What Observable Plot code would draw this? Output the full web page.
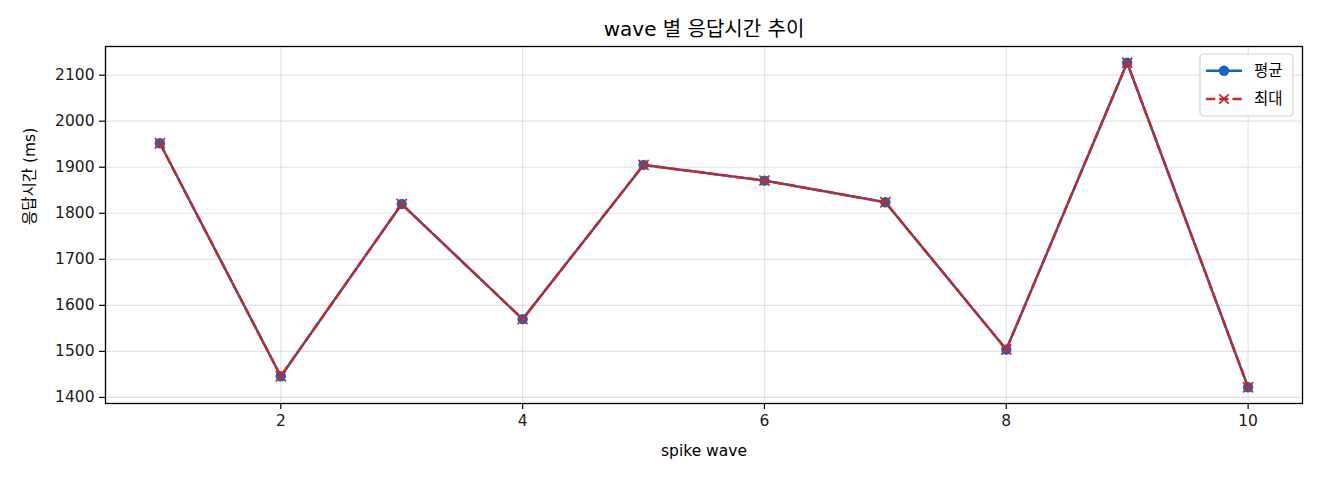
<!DOCTYPE html>
<html>
<head>
<meta charset="utf-8">
<script src="https://cdn.jsdelivr.net/npm/d3@7"></script>
<script src="https://cdn.jsdelivr.net/npm/@observablehq/plot@0.6"></script>
<style>
  html, body { margin: 0; padding: 0; background: #fff; }
  svg { display: block; }
</style>
</head>
<body>
<div id="chart"></div>
<script>
const waves = [1, 2, 3, 4, 5, 6, 7, 8, 9, 10];
const avgValues = [1952, 1446, 1820, 1570, 1905, 1871, 1824, 1504, 2127, 1422];
const maxValues = [1952, 1446, 1820, 1570, 1905, 1871, 1824, 1504, 2127, 1422];
const xTicks = [2, 4, 6, 8, 10];
const yTicks = [1400, 1500, 1600, 1700, 1800, 1900, 2000, 2100];
const titleText = "wave 별 응답시간 추이";
const xLabel = "spike wave";
const yLabel = "응답시간 (ms)";
const seriesNames = ["평균", "최대"];

const blue = "#1565c0";
const red = "#c62828";
const font = "'DejaVu Sans', 'Noto Sans CJK KR', sans-serif";
const fs = 15.5;

const data = waves.map((w, i) => ({wave: w, avg: avgValues[i], max: maxValues[i]}));

const yMin = d3.min([...avgValues, ...maxValues]);
const yMax = d3.max([...avgValues, ...maxValues]);
const yPad = (yMax - yMin) * 0.05;
const xPad = (d3.max(waves) - d3.min(waves)) * 0.05;

const chart = Plot.plot({
  width: 1320,
  height: 480,
  marginLeft: 105,
  marginRight: 18,
  marginTop: 46,
  marginBottom: 77,
  style: {fontFamily: font, fontSize: fs + "px", color: "#1a1a1a", background: "#fff"},
  x: {domain: [d3.min(waves) - xPad, d3.max(waves) + xPad]},
  y: {domain: [yMin - yPad, yMax + yPad]},
  marks: [
    Plot.gridX(xTicks, {stroke: "#b0b0b0", strokeOpacity: 0.35, strokeWidth: 1.2}),
    Plot.gridY(yTicks, {stroke: "#b0b0b0", strokeOpacity: 0.35, strokeWidth: 1.2}),
    Plot.axisX(xTicks, {tickSize: 6, tickPadding: 5, label: null, fontSize: fs, stroke: "#000", strokeWidth: 1.2, tickFormat: d => String(d)}),
    Plot.axisY(yTicks, {tickSize: 6, tickPadding: 5, label: null, fontSize: fs, stroke: "#000", strokeWidth: 1.2, tickFormat: d => String(d)}),
    Plot.line(data, {x: "wave", y: "avg", stroke: blue, strokeWidth: 2.5}),
    Plot.dot(data, {x: "wave", y: "avg", fill: blue, r: 5.2, stroke: "none"}),
    Plot.line(data, {x: "wave", y: "max", stroke: red, strokeWidth: 2.5, strokeDasharray: "9.25,4"}),
    Plot.dot(data, {x: "wave", y: "max", symbol: "times", r: 4.7, stroke: red, strokeWidth: 1.7}),
    Plot.frame({stroke: "#000", strokeWidth: 1.3}),
    Plot.text([titleText], {frameAnchor: "top", dy: -17, fontSize: 20, fill: "#000", lineAnchor: "middle"}),
    Plot.text([xLabel], {frameAnchor: "bottom", dy: 48, fontSize: fs, fill: "#000", lineAnchor: "middle"}),
    Plot.text([yLabel], {frameAnchor: "left", dx: -75, rotate: -90, fontSize: fs, fill: "#000", lineAnchor: "middle"})
  ]
});

// legend (upper right, inside frame)
const svg = d3.select(chart);
const lg = svg.append("g").attr("font-family", font).attr("font-size", fs).attr("text-anchor", "start");
lg.append("rect").attr("x", 1200).attr("y", 54).attr("width", 93).attr("height", 62)
  .attr("rx", 4).attr("fill", "#fff").attr("fill-opacity", 0.8).attr("stroke", "#d0d0d0").attr("stroke-width", 1.2);
// row 1
lg.append("line").attr("x1", 1206).attr("x2", 1242).attr("y1", 70.7).attr("y2", 70.7)
  .attr("stroke", blue).attr("stroke-width", 2.5);
lg.append("circle").attr("cx", 1224).attr("cy", 70.7).attr("r", 5.2).attr("fill", blue);
lg.append("text").attr("x", 1254).attr("y", 70.7).attr("dy", "0.35em").attr("fill", "#000").text(seriesNames[0]);
// row 2
lg.append("line").attr("x1", 1206).attr("x2", 1242).attr("y1", 99).attr("y2", 99)
  .attr("stroke", red).attr("stroke-width", 2.5).attr("stroke-dasharray", "9.25,4");
lg.append("path").attr("d", "M1219.3,94.3L1228.7,103.7M1228.7,94.3L1219.3,103.7")
  .attr("stroke", red).attr("stroke-width", 1.7).attr("fill", "none");
lg.append("text").attr("x", 1254).attr("y", 99).attr("dy", "0.35em").attr("fill", "#000").text(seriesNames[1]);

document.getElementById("chart").appendChild(chart);
</script>
</body>
</html>
